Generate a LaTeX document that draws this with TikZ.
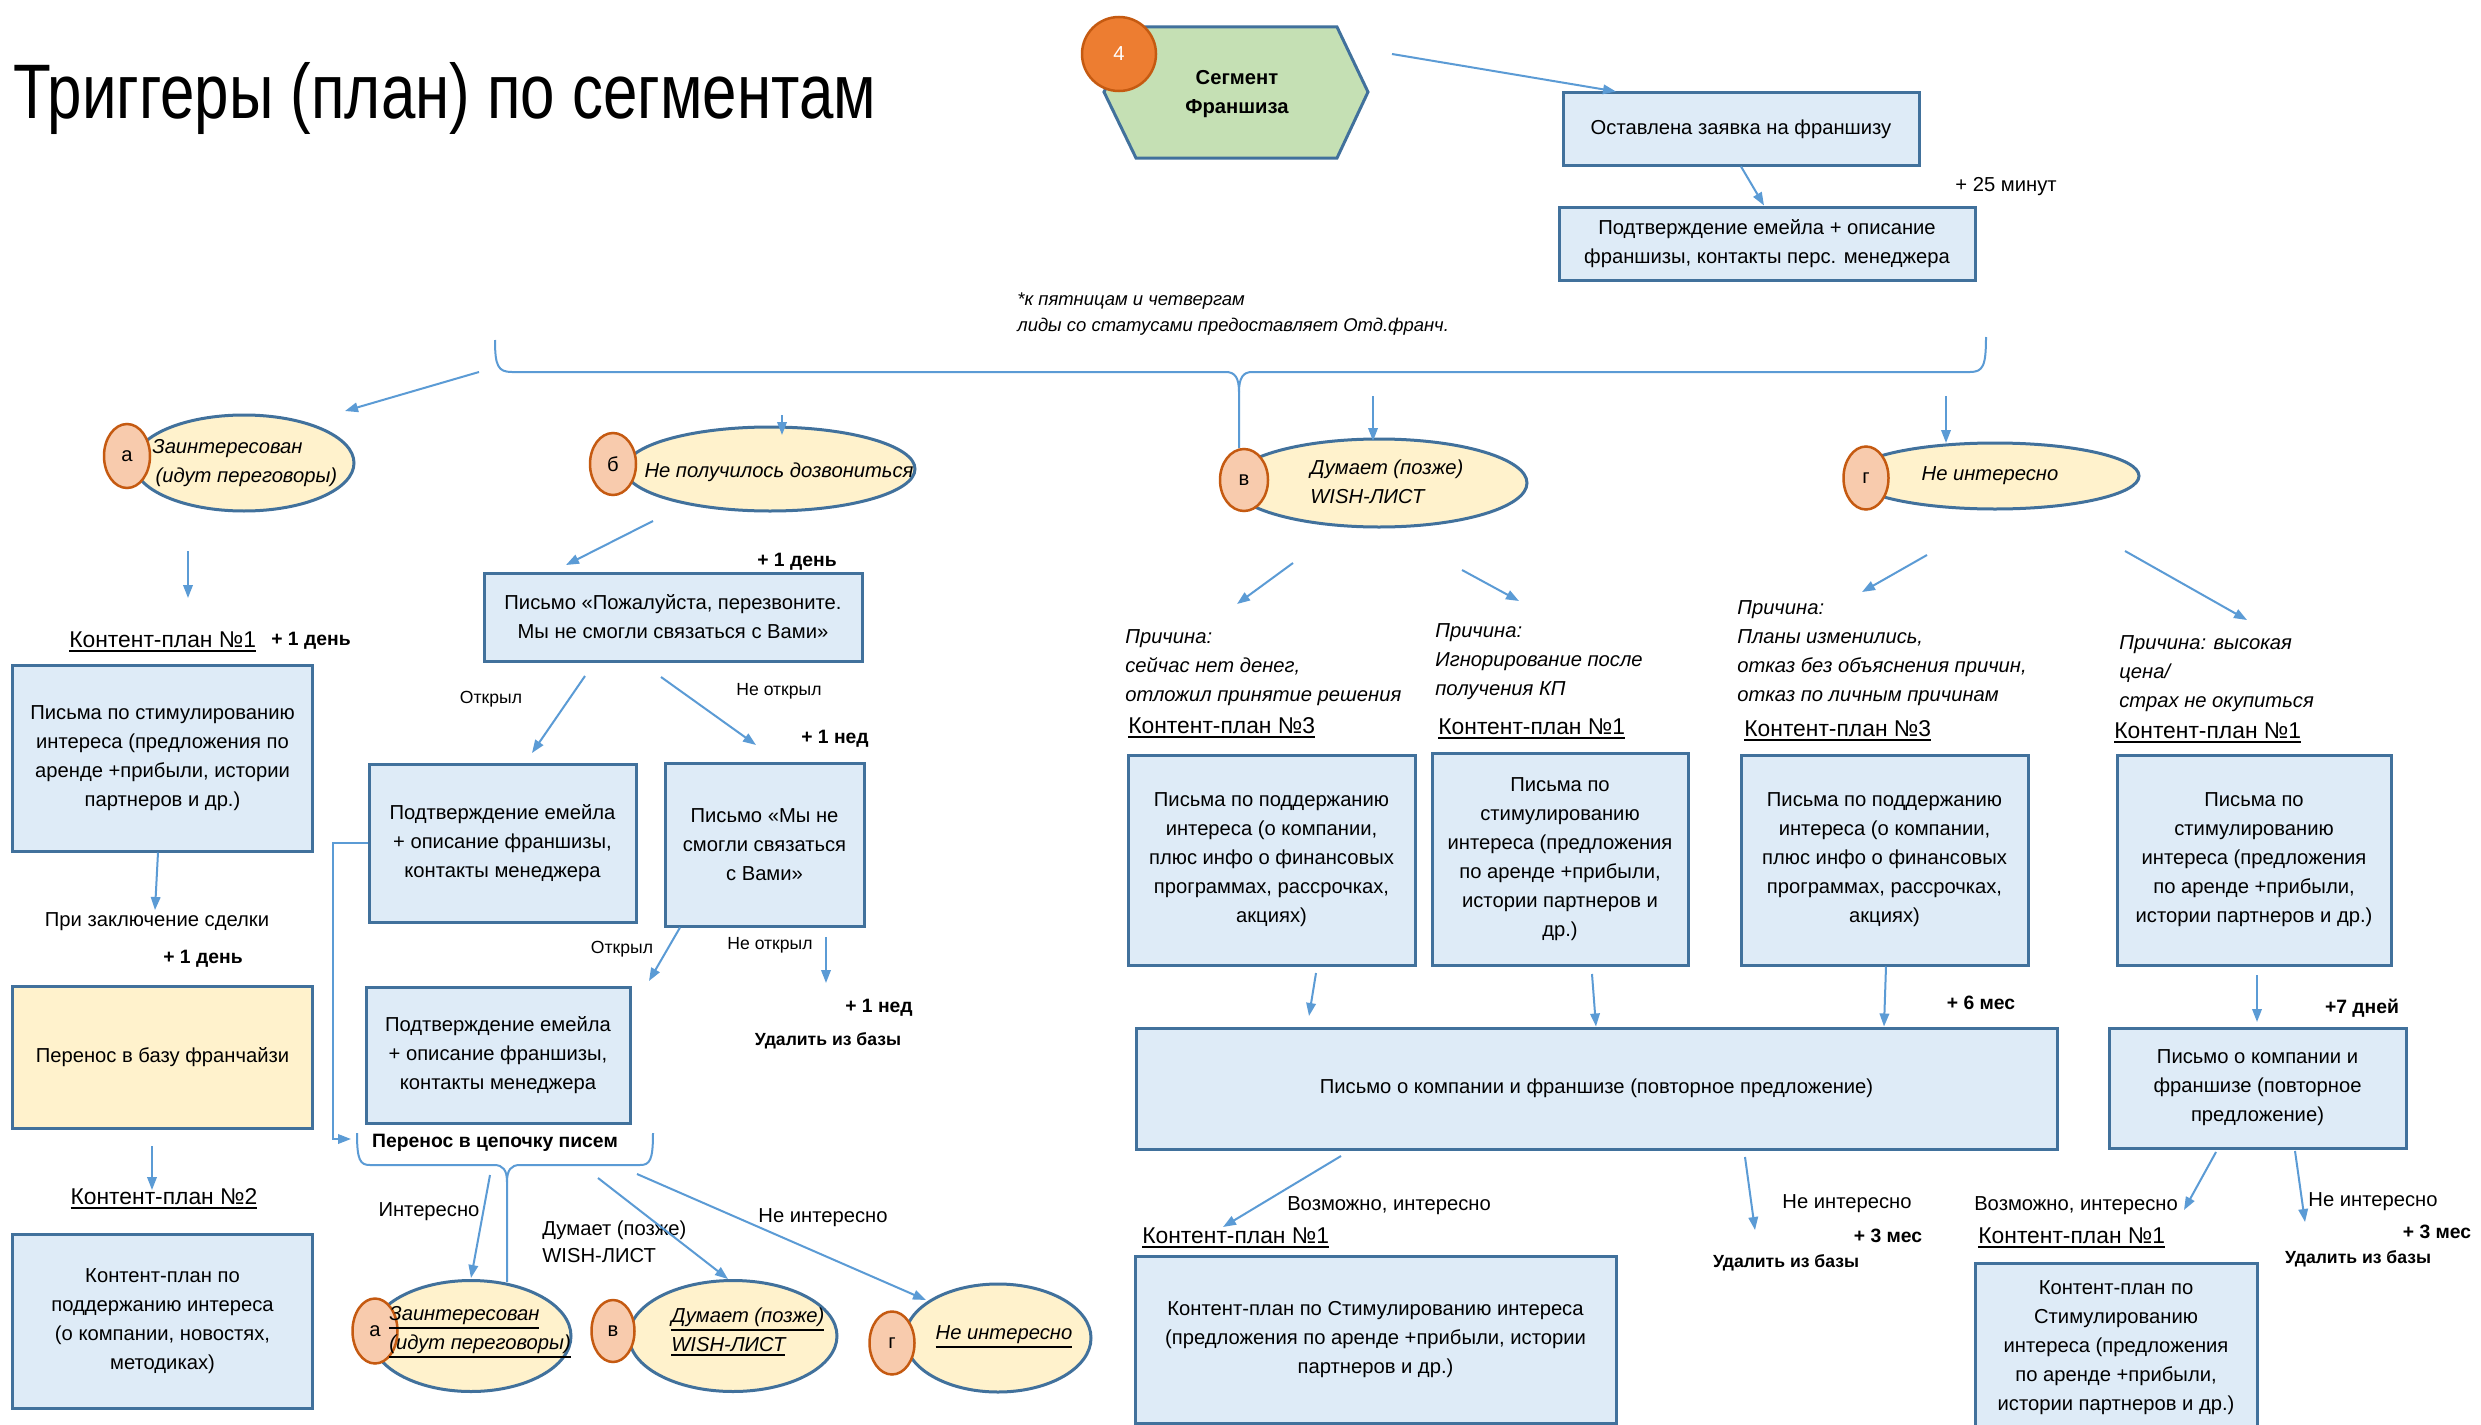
\documentclass[tikz,border=0pt]{standalone}
\usepackage{fontspec}
\setmainfont{Liberation Sans}
\newfontfamily\titlefont[FakeStretch=0.8]{Liberation Sans}
\newcommand{\ulined}[1]{\vtop{\hbox{#1}\kern1.4pt\hrule height 1pt}}
\usetikzlibrary{shapes.geometric,arrows.meta}
\definecolor{boxblue}{HTML}{DEEBF7}
\definecolor{edgeblue}{HTML}{41719C}
\definecolor{linkblue}{HTML}{5B9BD5}
\definecolor{softyellow}{HTML}{FFF2CC}
\definecolor{segmgreen}{HTML}{C5E0B4}
\definecolor{peach}{HTML}{F8CBAD}
\definecolor{rust}{HTML}{C55A11}
\definecolor{segmorange}{HTML}{ED7D31}

\begin{document}
\begin{tikzpicture}[x=0.2mm, y=-0.2mm,
  every node/.style={inner sep=0pt, font=\fontsize{11.5}{16.5}\selectfont},
  box/.style={draw=edgeblue, fill=boxblue, line width=0.6mm, align=center},
  oval/.style={ellipse, draw=edgeblue, fill=softyellow, line width=0.6mm},
  badge/.style={ellipse, draw=rust, fill=peach, line width=0.5mm},
  ovaltext/.style={font=\fontsize{11.5}{16.5}\selectfont\itshape},
  link/.style={draw=linkblue, line width=0.4mm, -{Triangle[length=2.6mm,width=1.9mm]}},
  brace/.style={draw=linkblue, line width=0.4mm},
  plan/.style={anchor=west, font=\fontsize{13}{16}\selectfont},
  reason/.style={anchor=west, align=left, font=\fontsize{11.5}{16.5}\selectfont\itshape},
  tag/.style={font=\fontsize{11}{14}\selectfont\bfseries},
  drop/.style={font=\fontsize{10}{13}\selectfont\bfseries},
  opened/.style={font=\fontsize{10}{13}\selectfont}]
\path[use as bounding box, fill=white] (0,0) rectangle (2481,1425);

% header
\node[anchor=base west, font=\titlefont\fontsize{44}{50}\selectfont] (title) at (13,119) {Триггеры (план) по сегментам};
\filldraw[draw=edgeblue, fill=segmgreen, line width=0.6mm] (1104,92) -- (1136,27) -- (1337,27) -- (1368,92) -- (1337,158) -- (1136,158) -- cycle;
\node[font=\fontsize{11.5}{16.5}\selectfont\bfseries, align=center] (segm) at (1237,94) {Сегмент\\Франшиза};
\node[circle, draw=rust, fill=segmorange, line width=0.5mm, minimum size=14.8mm, text=white] (segnum) at (1119,54) {4};
\node[box, minimum width=71.2mm, minimum height=14.4mm] (lead) at (1741,129) {Оставлена заявка на франшизу};
\node[box, minimum width=83.2mm, minimum height=14.6mm] (confirm) at (1767,243.5) {Подтверждение емейла + описание\\франшизы, контакты перс. менеджера};
\node (delay25) at (2006,187) {+ 25 минут};
\node[anchor=west, align=left, font=\fontsize{10.5}{14.7}\selectfont\itshape] (note) at (1017,314) {*к пятницам и четвергам\\лиды со статусами предоставляет Отд.франч.};

% braces
\draw[brace] (495,340) .. controls (495,366) and (498,372) .. (512,372) -- (1226,372) .. controls (1235,372) and (1239,378) .. (1239,392) -- (1239,448);
\draw[brace] (1239,392) .. controls (1239,378) and (1243,372) .. (1252,372) -- (1970,372) .. controls (1983,372) and (1986,366) .. (1986,337);
\draw[brace] (357,1133) .. controls (357,1160) and (360,1165) .. (370,1165) -- (494,1165) .. controls (503,1165) and (507,1170) .. (507,1182) -- (507,1282);
\draw[brace] (507,1182) .. controls (507,1170) and (511,1165) .. (520,1165) -- (640,1165) .. controls (650,1165) and (653,1160) .. (653,1133);

% segments
\node[oval, minimum width=44mm, minimum height=19.2mm] (ovA) at (244,463) {};
\node[badge, minimum width=9.2mm, minimum height=12.8mm] (badA) at (127,456) {а};
\node[ovaltext, anchor=west, align=left] (txtA) at (152,463) {Заинтересован\\\,(идут переговоры)};
\node[oval, minimum width=58mm, minimum height=16.8mm] (ovB) at (770,469) {};
\node[badge, minimum width=9.2mm, minimum height=12.4mm] (badB) at (613,464) {б};
\node[ovaltext] (txtB) at (779,472) {Не получилось дозвониться};
\node[oval, minimum width=59.2mm, minimum height=17.6mm] (ovV) at (1379,483) {};
\node[badge, minimum width=9.6mm, minimum height=12.4mm] (badV) at (1244,480) {в};
\node[ovaltext, anchor=west, align=left] (txtV) at (1310,482) {Думает (позже)\\WISH-ЛИСТ};
\node[oval, minimum width=57.6mm, minimum height=13.2mm] (ovG) at (1995,476) {};
\node[badge, minimum width=9mm, minimum height=12.6mm] (badG) at (1866,478) {г};
\node[ovaltext] (txtG) at (1990,476) {Не интересно};

% branch a
\node[plan] (planA) at (69,642) {\ulined{Контент-план №1}};
\node[tag] (dayA) at (311,641) {+ 1 день};
\node[box, minimum width=59.8mm, minimum height=37.2mm] (stimA) at (162.5,758) {Письма по стимулированию\\интереса (предложения по\\аренде +прибыли, истории\\партнеров и др.)};
\node (dealA) at (157,922) {При заключение сделки};
\node[tag] (dayA2) at (203,959) {+ 1 день};
\node[box, fill=softyellow, minimum width=59.8mm, minimum height=28.4mm] (baseA) at (162.5,1057) {Перенос в базу франчайзи};
\node[plan, anchor=center] (planA2) at (164,1199) {\ulined{Контент-план №2}};
\node[box, minimum width=59.8mm, minimum height=34.8mm] (keepA) at (162.5,1321) {Контент-план по\\поддержанию интереса\\(о компании, новостях,\\методиках)};

% branch b
\node[tag] (dayB) at (797,562) {+ 1 день};
\node[box, minimum width=75.6mm, minimum height=17.6mm] (callB) at (673,617) {Письмо «Пожалуйста, перезвоните.\\Мы не смогли связаться с Вами»};
\node[opened] (openB) at (491,699) {Открыл};
\node[opened] (noopenB) at (779,691) {Не открыл};
\node[tag] (weekB) at (835,739) {+ 1 нед};
\node[box, minimum width=53.4mm, minimum height=31.6mm] (confirmB) at (502.5,843) {Подтверждение емейла\\+ описание франшизы,\\контакты менеджера};
\node[box, minimum width=39.8mm, minimum height=32.6mm] (sorryB) at (764.5,844.5) {Письмо «Мы не\\смогли связаться\\с Вами»};
\node[opened] (openB2) at (622,949) {Открыл};
\node[opened] (noopenB2) at (770,945) {Не открыл};
\node[tag] (weekB2) at (879,1008) {+ 1 нед};
\node[drop] (dropB) at (828,1041) {Удалить из базы};
\node[box, minimum width=52.8mm, minimum height=27.2mm] (confirmB2) at (498,1055) {Подтверждение емейла\\+ описание франшизы,\\контакты менеджера};
\node[tag] (chainB) at (495,1143) {Перенос в цепочку писем};
\node (yesB) at (429,1212) {Интересно};
\node[anchor=west, align=left, font=\fontsize{11.5}{15.3}\selectfont] (laterB) at (542,1241.5) {Думает (позже)\\WISH-ЛИСТ};
\node (noB) at (823,1218) {Не интересно};
\node[oval, minimum width=40mm, minimum height=22.2mm] (ovA2) at (471,1336) {};
\node[badge, minimum width=9mm, minimum height=13mm] (badA2) at (375,1331) {а};
\node[ovaltext, anchor=west, align=left] (txtA2) at (389,1332) {\ulined{Заинтересован}\\\ulined{(идут переговоры)}};
\node[oval, minimum width=41.6mm, minimum height=22.2mm] (ovV2) at (733,1336) {};
\node[badge, minimum width=8.6mm, minimum height=12.4mm] (badV2) at (613,1331) {в};
\node[ovaltext, anchor=west, align=left] (txtV2) at (671,1332) {\ulined{Думает (позже)}\\\ulined{WISH-ЛИСТ}};
\node[oval, minimum width=37.2mm, minimum height=21.6mm] (ovG2) at (998,1338) {};
\node[badge, minimum width=9mm, minimum height=12.6mm] (badG2) at (892,1343) {г};
\node[ovaltext] (txtG2) at (1004,1337) {\ulined{Не интересно}};

% branches v and g
\node[reason] (whyV1) at (1125,667.5) {Причина:\\сейчас нет денег,\\отложил принятие решения};
\node[plan] (planV1) at (1128,728) {\ulined{Контент-план №3}};
\node[box, minimum width=57.4mm, minimum height=42mm] (keepV1) at (1271.5,860) {Письма по поддержанию\\интереса (о компании,\\плюс инфо о финансовых\\программах, рассрочках,\\акциях)};
\node[reason] (whyV2) at (1435,662) {Причина:\\Игнорирование после\\получения КП};
\node[plan] (planV2) at (1438,729) {\ulined{Контент-план №1}};
\node[box, minimum width=51.2mm, minimum height=42.4mm] (stimV2) at (1560,859) {Письма по\\стимулированию\\интереса (предложения\\по аренде +прибыли,\\истории партнеров и\\др.)};
\node[reason] (whyG1) at (1737,653) {Причина:\\Планы изменились,\\отказ без объяснения причин,\\отказ по личным причинам};
\node[plan] (planG1) at (1744,731) {\ulined{Контент-план №3}};
\node[box, minimum width=57.4mm, minimum height=42mm] (keepG1) at (1884.5,860) {Письма по поддержанию\\интереса (о компании,\\плюс инфо о финансовых\\программах, рассрочках,\\акциях)};
\node[reason] (whyG2) at (2119,674) {Причина: высокая\\цена/\\страх не окупиться};
\node[plan] (planG2) at (2114,733) {\ulined{Контент-план №1}};
\node[box, minimum width=54.8mm, minimum height=42mm] (stimG2) at (2254,860) {Письма по\\стимулированию\\интереса (предложения\\по аренде +прибыли,\\истории партнеров и др.)};

% repeat offer
\node[tag] (mon6) at (1981,1003) {+ 6 мес};
\node[tag] (days7) at (2362,1008) {+7 дней};
\node[box, minimum width=184.2mm, minimum height=24.2mm] (offer) at (1596.5,1088.5) {Письмо о компании и франшизе (повторное предложение)};
\node[box, minimum width=59.4mm, minimum height=24mm] (offerG) at (2257.5,1088) {Письмо о компании и\\франшизе (повторное\\предложение)};
\node (maybeM) at (1389,1206) {Возможно, интересно};
\node[plan] (planM) at (1142,1238) {\ulined{Контент-план №1}};
\node[box, minimum width=96.2mm, minimum height=33.4mm] (stimM) at (1375.5,1339.5) {Контент-план по Стимулированию интереса\\(предложения по аренде +прибыли, истории\\партнеров и др.)};
\node (noM) at (1847,1204) {Не интересно};
\node[tag] (mon3M) at (1888,1236) {+ 3 мес};
\node[drop] (dropM) at (1786,1263) {Удалить из базы};
\node (maybeR) at (2076,1206) {Возможно, интересно};
\node[plan] (planR) at (1978,1238) {\ulined{Контент-план №1}};
\node[box, minimum width=56.4mm, minimum height=33.8mm] (stimR) at (2116,1347.5) {Контент-план по\\Стимулированию\\интереса (предложения\\по аренде +прибыли,\\истории партнеров и др.)};
\node (noR) at (2373,1202) {Не интересно};
\node[tag] (mon3R) at (2437,1232) {+ 3 мес};
\node[drop] (dropR) at (2358,1259) {Удалить из базы};

% arrows
\coordinate (s1) at (1392,54);
\draw[link] (s1) -- (1616,0 |- lead.north);
\draw[link] (1741,0 |- lead.south) -- (1764,0 |- confirm.north);
\coordinate (s3) at (479,372);   \coordinate (e3) at (345,411);
\coordinate (s4) at (782,415);   \coordinate (e4) at (782,435);
\coordinate (s5) at (1373,396);  \coordinate (e5) at (1373,441);
\coordinate (s6) at (1946,396);  \coordinate (e6) at (1946,443);
\coordinate (s7) at (188,551);   \coordinate (e7) at (188,598);
\coordinate (e8) at (155,910);
\coordinate (s9) at (152,1146);  \coordinate (e9) at (152,1190);
\coordinate (s10) at (653,521);  \coordinate (e10) at (566,565);
\coordinate (s11) at (585,676);  \coordinate (e11) at (532,753);
\coordinate (s12) at (661,677);  \coordinate (e12) at (756,745);
\coordinate (e13) at (649,981);
\coordinate (s14) at (826,937);  \coordinate (e14) at (826,983);
\coordinate (e15) at (351,1139);
\coordinate (s16) at (490,1175); \coordinate (e16) at (471,1278);
\coordinate (s17) at (598,1178); \coordinate (e17) at (728,1279);
\coordinate (s18) at (637,1174); \coordinate (e18) at (926,1300);
\coordinate (s19) at (1293,563); \coordinate (e19) at (1237,604);
\coordinate (s20) at (1462,570); \coordinate (e20) at (1519,601);
\coordinate (s21) at (1927,555); \coordinate (e21) at (1862,592);
\coordinate (s22) at (2125,551); \coordinate (e22) at (2247,620);
\coordinate (s23) at (1316,973); \coordinate (e23) at (1309,1016);
\coordinate (s24) at (1592,974);
\coordinate (s26) at (2257,975); \coordinate (e26) at (2257,1022);
\coordinate (s27) at (1341,1156); \coordinate (e27) at (1223,1227);
\coordinate (s28) at (1745,1157); \coordinate (e28) at (1755,1230);
\coordinate (s29) at (2216,1152); \coordinate (e29) at (2184,1210);
\coordinate (s30) at (2295,1151); \coordinate (e30) at (2305,1222);
\draw[link] (s3) -- (e3);
\draw[link] (s4) -- (e4);
\draw[link] (s5) -- (e5);
\draw[link] (s6) -- (e6);
\draw[link] (s7) -- (e7);
\draw[link] (158,0 |- stimA.south) -- (e8);
\draw[link] (s9) -- (e9);
\draw[link] (s10) -- (e10);
\draw[link] (s11) -- (e11);
\draw[link] (s12) -- (e12);
\draw[link] (680,0 |- sorryB.south) -- (e13);
\draw[link] (s14) -- (e14);
\draw[link] (confirmB.west) -- ++(-35,0) |- (e15);
\draw[link] (s16) -- (e16);
\draw[link] (s17) -- (e17);
\draw[link] (s18) -- (e18);
\draw[link] (s19) -- (e19);
\draw[link] (s20) -- (e20);
\draw[link] (s21) -- (e21);
\draw[link] (s22) -- (e22);
\draw[link] (s23) -- (e23);
\draw[link] (s24) -- (1596,0 |- offer.north);
\draw[link] (1886,0 |- keepG1.south) -- (1884,0 |- offer.north);
\draw[link] (s26) -- (e26);
\draw[link] (s27) -- (e27);
\draw[link] (s28) -- (e28);
\draw[link] (s29) -- (e29);
\draw[link] (s30) -- (e30);
\end{tikzpicture}
\end{document}
